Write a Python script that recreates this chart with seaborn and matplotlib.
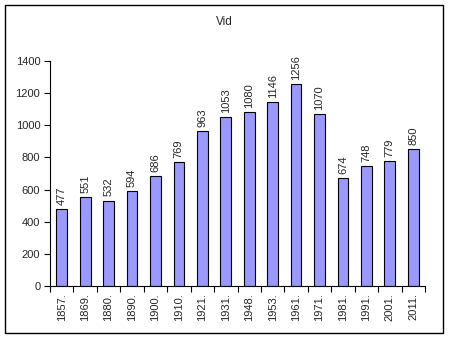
import matplotlib
matplotlib.use("Agg")
import matplotlib.pyplot as plt
import seaborn as sns
import pandas as pd
import numpy as np
from matplotlib.patches import Rectangle
from matplotlib.ticker import FixedLocator

years = ["1857.", "1869.", "1880.", "1890.", "1900.", "1910.", "1921.", "1931.",
         "1948.", "1953.", "1961.", "1971.", "1981.", "1991.", "2001.", "2011."]
population = [477, 551, 532, 594, 686, 769, 963, 1053, 1080, 1146, 1256, 1070, 674, 748, 779, 850]

sns.set_theme(style="white")
plt.rcParams['font.family'] = ['Liberation Sans', 'DejaVu Sans']

df = pd.DataFrame({"year": years, "pop": population})

fig = plt.figure(figsize=(4.49, 3.38), dpi=100)
ax = fig.add_axes([50/449, 1-286/338, (425-50)/449, (286-61)/338])

sns.barplot(data=df, x="year", y="pop", ax=ax, color="#9999FF",
            edgecolor="black", linewidth=0.8, width=0.46, saturation=1)

ax.set_xlim(-0.5, len(years) - 0.5)
ax.set_ylim(0, 1400)
ax.set_yticks(np.arange(0, 1401, 200))
ax.set_xlabel("")
ax.set_ylabel("")
for s in ["top", "right"]:
    ax.spines[s].set_visible(False)
for s in ["left", "bottom"]:
    ax.spines[s].set_color("black")
    ax.spines[s].set_linewidth(0.8)

ax.tick_params(axis="y", which="major", length=4, width=0.8, color="black",
               labelsize=8, pad=3, left=True)
ax.tick_params(axis="x", which="major", length=0, labelsize=8, pad=5, labelrotation=90)
ax.xaxis.set_minor_locator(FixedLocator(np.arange(-0.5, len(years), 1.0)))
ax.tick_params(axis="x", which="minor", length=4, width=0.8, color="black", bottom=True)

for i, v in enumerate(population):
    ax.text(i, v + 25, str(v), rotation=90, ha="center", va="bottom", fontsize=8)

fig.text(224/449, 1-22/338, "Vid", ha="center", va="center", fontsize=8.5)

fig.patches.append(Rectangle((5/449, 1-333/338), (443-5)/449, (333-5)/338,
                             transform=fig.transFigure, fill=False,
                             edgecolor="black", linewidth=1))

fig.savefig("out.png", dpi=100, facecolor="white")
